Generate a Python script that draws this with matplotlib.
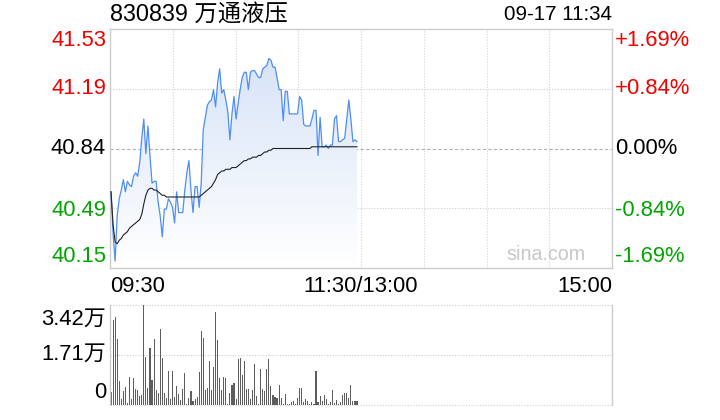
import matplotlib
matplotlib.use('Agg')
import matplotlib.pyplot as plt
import numpy as np
from matplotlib.colors import LinearSegmentedColormap

plt.rcParams['font.family'] = ['Liberation Sans', 'Noto Sans CJK SC']

# 830839 万通液压 分时数据 (09:30 ~ 11:30)
title = '830839 万通液压'
stamp = '09-17 11:34'
prev_close = 40.84
price_lo, price_hi = 40.15, 41.53

price = [40.59, 40.35, 40.19, 40.45, 40.55, 40.60, 40.66, 40.59, 40.65, 40.63,
         40.62, 40.68, 40.70, 40.68, 40.76, 40.90, 41.01, 40.81, 40.97, 40.80,
         40.64, 40.65, 40.65, 40.53, 40.45, 40.33, 40.49, 40.49, 40.55, 40.53,
         40.50, 40.41, 40.59, 40.47, 40.47, 40.47, 40.60, 40.70, 40.77, 40.60,
         40.47, 40.62, 40.62, 40.50, 40.64, 40.95, 41.02, 41.09, 41.11, 41.12,
         41.18, 41.08, 41.22, 41.30, 41.16, 41.18, 41.12, 41.05, 40.89, 41.04,
         41.14, 41.01, 41.10, 41.18, 41.25, 41.28, 41.28, 41.18, 41.28, 41.29,
         41.29, 41.27, 41.25, 41.25, 41.30, 41.31, 41.32, 41.36, 41.35, 41.31,
         41.31, 41.25, 41.18, 41.18, 41.00, 41.17, 41.17, 41.04, 41.04, 41.04,
         41.04, 41.04, 41.14, 41.12, 40.98, 40.97, 40.97, 40.97, 41.01, 41.06,
         41.06, 40.80, 41.02, 40.85, 40.85, 40.86, 40.84, 40.86, 40.86, 41.01,
         41.03, 40.88, 40.88, 40.89, 40.90, 41.01, 41.12, 41.01, 40.88, 40.89,
         40.88]

avg = [40.59, 40.40, 40.30, 40.29, 40.31, 40.32, 40.34, 40.35, 40.36, 40.38,
       40.39, 40.40, 40.41, 40.42, 40.43, 40.46, 40.52, 40.57, 40.60, 40.61,
       40.61, 40.60, 40.60, 40.59, 40.58, 40.57, 40.57, 40.56, 40.56, 40.56,
       40.56, 40.56, 40.56, 40.56, 40.56, 40.56, 40.56, 40.56, 40.56, 40.56,
       40.56, 40.56, 40.56, 40.56, 40.57, 40.58, 40.59, 40.60, 40.61, 40.62,
       40.64, 40.66, 40.69, 40.70, 40.71, 40.71, 40.72, 40.72, 40.72, 40.73,
       40.73, 40.73, 40.74, 40.75, 40.76, 40.77, 40.77, 40.78, 40.78, 40.79,
       40.79, 40.79, 40.80, 40.80, 40.81, 40.82, 40.82, 40.83, 40.83, 40.84,
       40.84, 40.84, 40.84, 40.84, 40.84, 40.84, 40.84, 40.84, 40.84, 40.84,
       40.84, 40.84, 40.84, 40.84, 40.84, 40.84, 40.84, 40.84, 40.85, 40.85,
       40.85, 40.85, 40.85, 40.85, 40.85, 40.85, 40.85, 40.85, 40.85, 40.85,
       40.85, 40.85, 40.85, 40.85, 40.85, 40.85, 40.85, 40.85, 40.85, 40.85,
       40.85]

# 成交量 (万)
vol = [0.46, 2.91, 3.02, 2.26, 0.83, 0.21, 0.49, 0.62, 0.08, 0.96,
       0.21, 0.92, 0.55, 0.51, 0.31, 0.34, 3.42, 1.64, 0.58, 1.95,
       0.86, 2.26, 0.51, 0.42, 2.60, 1.61, 0.41, 0.24, 1.16, 0.21,
       1.16, 0.27, 0.65, 0.38, 0.17, 0.55, 1.09, 0.02, 0.24, 0.48,
       0.14, 0.21, 0.27, 1.13, 2.53, 2.29, 0.51, 0.58, 1.50, 0.51,
       1.30, 3.18, 2.22, 0.92, 0.51, 0.96, 0.92, 0.02, 0.41, 0.68,
       0.75, 0.21, 1.57, 1.61, 1.03, 1.50, 0.55, 0.55, 0.21, 0.51,
       1.40, 0.31, 0.02, 1.23, 0.55, 0.48, 1.23, 1.57, 0.65, 0.34,
       0.27, 0.24, 0.68, 0.24, 0.02, 0.38, 0.03, 0.03, 0.10, 0.14,
       0.03, 0.24, 0.58, 0.58, 0.10, 0.21, 0.14, 0.03, 0.10, 0.03,
       1.16, 0.10, 0.31, 0.14, 0.34, 0.21, 0.03, 0.10, 0.51, 0.07,
       0.17, 0.03, 0.10, 0.34, 0.41, 0.41, 0.24, 0.68, 0.14, 0.14,
       0.14]
vol_max = 3.42

price_labels = ['41.53', '41.19', '40.84', '40.49', '40.15']
pct_labels = ['+1.69%', '+0.84%', '0.00%', '-0.84%', '-1.69%']
label_colors = ['#f20000', '#f20000', '#000000', '#00a600', '#00a600']
time_labels = ['09:30', '11:30/13:00', '15:00']
vol_labels = ['3.42万', '1.71万', '0']

W, H = 720, 420
fig = plt.figure(figsize=(W / 100, H / 100), dpi=100)

def fx(px):
    return px / W

def fy(py):
    return 1 - py / H

ax = fig.add_axes([fx(110), fy(268), fx(502), 239 / H])
axv = fig.add_axes([fx(110), fy(405), fx(502), 100 / H])

x0, x1 = -0.5, 244.4
x = np.arange(len(price))
xv = np.arange(len(vol))

# 价格区
ax.set_xlim(x0, x1)
ax.set_ylim(price_lo, price_hi)
poly = ax.fill_between(x, price, price_lo, color='none', lw=0)
cmap = LinearSegmentedColormap.from_list('fade', ['#ffffff', '#d2e0f6'])
grad = np.linspace(1, 0, 256).reshape(-1, 1)
im = ax.imshow(grad, extent=[x0, x1, price_lo, price_hi], aspect='auto',
               cmap=cmap, zorder=1)
im.set_clip_path(poly.get_paths()[0], transform=ax.transData)

grid_x = np.linspace(x0, x1, 9)[1:-1]
for gx in grid_x:
    ax.axvline(gx, color='#d4d4d4', lw=0.8, ls=(0, (1, 1.5)), zorder=0)
mid = (prev_close + price_hi) / 2
low_mid = (prev_close + price_lo) / 2
for gy in [mid, low_mid]:
    ax.axhline(gy, color='#cfcfcf', lw=0.8, ls=(0, (1, 1.5)), zorder=0)
ax.axhline(prev_close, color='#b0b0b0', lw=0.8, ls=(0, (3, 2)), zorder=0)

ax.plot(x, price, color='#4f8ef2', lw=0.9, zorder=3)
ax.plot(x, avg, color='#222222', lw=0.8, zorder=3)

ax.set_xticks([])
ax.set_yticks([])
for s in ax.spines.values():
    s.set_color('#cccccc')
    s.set_linewidth(1)

# 成交量区
axv.set_xlim(x0, x1)
axv.set_ylim(0, vol_max)
axv.bar(xv, vol, width=0.55, color='#5e5e5e', zorder=2)
for gy in [0, vol_max / 2, vol_max]:
    axv.axhline(gy, color='#cfcfcf', lw=0.8, ls=(0, (1, 1.5)), zorder=0, clip_on=False)
axv.set_xticks([])
axv.set_yticks([])
axv.spines['top'].set_visible(False)
axv.spines['bottom'].set_visible(False)
for s in ['left', 'right']:
    axv.spines[s].set_color('#cccccc')
    axv.spines[s].set_linewidth(1)

fs = 15.8
label_y = [41, 88, 148, 210, 257]
for lbl, pct, c, py in zip(price_labels, pct_labels, label_colors, label_y):
    fig.text(fx(106), fy(py), lbl, color=c, fontsize=fs, ha='right', va='center')
    fig.text(fx(615), fy(py), pct, color=c, fontsize=fs, ha='left', va='center')

for lbl, px, ha in zip(time_labels, [110, 361, 612], ['left', 'center', 'right']):
    fig.text(fx(px), fy(287), lbl, fontsize=fs, ha=ha, va='center')

for lbl, py in zip(vol_labels, [319, 354, 392]):
    fig.text(fx(106), fy(py), lbl, fontsize=fs, ha='right', va='center')

fig.text(fx(110), fy(15), title, fontsize=16.8, ha='left', va='center')
fig.text(fx(612), fy(15), stamp, fontsize=14.8, ha='right', va='center')
fig.text(fx(546), fy(254), 'sina.com', fontsize=14.2, color='#c8c8c8',
         ha='center', va='center')

fig.savefig('out.png', dpi=100)
